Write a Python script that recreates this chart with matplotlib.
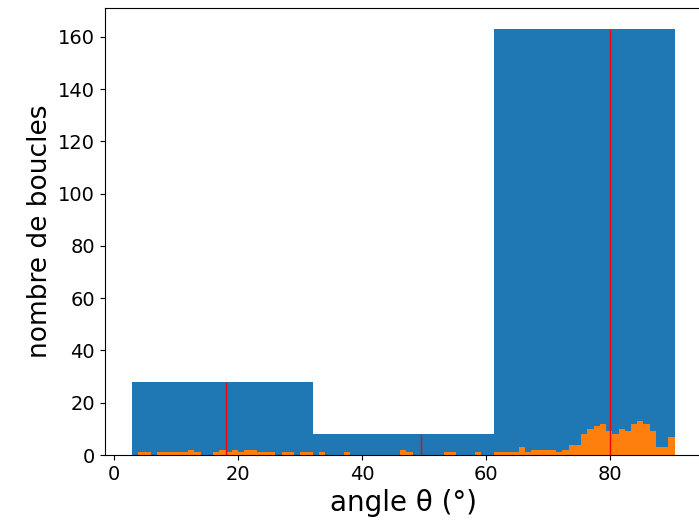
import numpy as np
import matplotlib
matplotlib.use("Agg")
import matplotlib.pyplot as plt

# coarse histogram (3 bins)
coarse_edges = np.linspace(2.9, 90.4, 4)
coarse_counts = [28, 8, 163]

# red markers inside each coarse bin
marker_pos = [18, 49.5, 80]

# fine histogram, ~1 degree bins over the same range
fine_edges = np.linspace(2.9, 90.4, 88)
fine_counts = [
    # 3 .. 31
    0, 1, 1, 0, 1, 1, 1, 1, 1, 2, 1, 0, 0, 1, 2, 1, 2, 1, 2, 2, 1, 1, 1, 0, 1, 1, 0, 1, 1,
    # 32 .. 60
    0, 1, 0, 0, 0, 1, 0, 0, 0, 0, 0, 0, 0, 0, 2, 1, 0, 0, 0, 0, 0, 1, 1, 0, 0, 0, 1, 0, 0,
    # 61 .. 89
    1, 1, 1, 1, 3, 1, 2, 2, 2, 2, 1, 2, 4, 4, 8, 10, 11, 12, 9, 8, 10, 9, 12, 13, 12, 9, 3, 3, 7,
]

fig = plt.figure(figsize=(6.99, 5.25), dpi=100)
ax = fig.add_axes([0.150, 0.1333, 0.854, 0.852])

ax.hist(coarse_edges[:-1], bins=coarse_edges, weights=coarse_counts, color="C0")
ax.hist(fine_edges[:-1], bins=fine_edges, weights=fine_counts, color="C1")
ax.vlines(marker_pos, 0, coarse_counts, colors="red", linewidth=1)

ax.set_xlim(-1.475, 94.775)
ax.set_ylim(0, 171.15)
ax.set_xlabel("angle θ (°)", fontsize=20)
ax.set_ylabel("nombre de boucles", fontsize=19)
ax.tick_params(labelsize=14)

fig.savefig("out.png", dpi=100)
